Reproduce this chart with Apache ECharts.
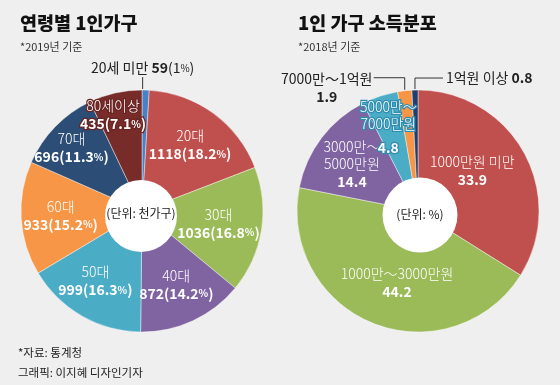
<!DOCTYPE html>
<html><head><meta charset="utf-8">
<script src="https://cdn.jsdelivr.net/npm/echarts@6/dist/echarts.min.js"></script>
<style>html,body{margin:0;padding:0;background:#efefef}#c{width:560px;height:385px}</style>
</head><body><div id="c"></div>
<script>
// ---- data ----
const ageNames = ['20세 미만','20대','30대','40대','50대','60대','70대','80세이상'];
const ageValues = [59,1118,1036,872,999,933,696,435];
const agePct = ['1','18.2','16.8','14.2','16.3','15.2','11.3','7.1'];
const incomeNames = ['1000만원 미만','1000만～3000만원','3000만～5000만원','5000만～7000만원','7000만～1억원','1억원 이상'];
const incomeLabelLines = [['1000만원 미만'],['1000만～3000만원'],['3000만～','5000만원'],['5000만～','7000만원'],['7000만～1억원'],['1억원 이상']];
const incomeValues = [33.9,44.2,14.4,4.8,1.9,0.8];

// ---- styles ----
const ageColors = ['#4a80c4','#c0504d','#9bbb59','#8064a2','#4bacc6','#f79646','#2c4d75','#772c2a'];
const incomeColors = ['#c0504d','#9bbb59','#8064a2','#4bacc6','#f79646','#1f3f6e'];
const FONT = "'Noto Sans CJK KR',sans-serif";
const KFONT = "'Noto Sans CJK KR',sans-serif";
const ageNudge = [[0,0],[0,0],[-4,0],[0,0],[-6,0],[0,0],[-12,-6],[-11,-16]];
const incNudge = [[-17,0],[9,-4],[-1,3],[-4,-3],[0,0],[0,0]];
const ageOutside = [0];
const incOutside = [4,5];

const richIn = {
  n:{fontSize:14,fontWeight:300,color:'#fff',lineHeight:17,fontFamily:FONT},
  v:{fontSize:14,fontWeight:'bold',color:'#fff',lineHeight:19,fontFamily:FONT},
  w:{fontSize:14,fontWeight:'bold',color:'#fff',lineHeight:30,fontFamily:FONT},
  p:{fontSize:10,fontWeight:'bold',color:'#fff',fontFamily:FONT}
};
const richOut = {
  b:{fontSize:14,fontWeight:'bold',color:'#222',fontFamily:FONT,lineHeight:18},
  t:{fontSize:14,color:'#222',fontFamily:FONT,lineHeight:18},
  q:{fontSize:10,color:'#222',fontFamily:FONT}
};

const ageCenter = [142,211], incCenter = [418,211], R = 121;

function visualData(names, values, colors, outside){
  return names.map((n,i)=>({name:n,value:values[i],itemStyle:{color:colors[i]},
    label:{show:outside.includes(i)},labelLine:{show:outside.includes(i)}}));
}
function labelData(names, values, outside, special){
  return names.map((n,i)=>{
    const d = {name:n,value:values[i],label:{show:!outside.includes(i)}};
    if (special[i]) Object.assign(d.label, special[i]);
    return d;
  });
}
const baseItem = {borderColor:'rgba(255,255,255,0.6)',borderWidth:0.7};

const option = {
  backgroundColor:'#efefef',
  animation:false,
  series:[
    { // age visual
      type:'pie', center:ageCenter, radius:[0,R], startAngle:90, clockwise:true,
      avoidLabelOverlap:false, silent:true, itemStyle:baseItem,
      data: visualData(ageNames, ageValues, ageColors, ageOutside),
      label:{position:'outside',fontSize:14,color:'#222',fontFamily:FONT,rich:richOut,
        formatter:(p)=>`{t|${p.name} }{b|${p.value}}{t|(${agePct[p.dataIndex]}}{q|%}{t|)}`},
      labelLine:{lineStyle:{color:'#333',width:1},length:10,length2:0},
      labelLayout:(p)=>{
        if (p.dataIndex!==0 || !p.labelLinePoints) return {};
        const q = p.labelLinePoints[0];
        const x = q[0]-3;
        return {x:x, y:q[1]-22, align:'center', verticalAlign:'middle',
          labelLinePoints:[[x,q[1]-1],[x,q[1]-13],[x,q[1]-13]]};
      }
    },
    { // age labels
      type:'pie', center:ageCenter, radius:[36,R], startAngle:90, clockwise:true,
      avoidLabelOverlap:false, silent:true, itemStyle:{color:'rgba(0,0,0,0)'},
      data: labelData(ageNames, ageValues, ageOutside, {7:{textBorderColor:'#6a2422',textBorderWidth:2.5}}),
      label:{position:'inside',rich:richIn,fontFamily:FONT,
        formatter:(p)=>`{n|${p.name}}\n{v|${p.value}(${agePct[p.dataIndex]}}{p|%}{v|)}`},
      labelLine:{show:false},
      labelLayout:(p)=>({dx:ageNudge[p.dataIndex][0],dy:ageNudge[p.dataIndex][1]})
    },
    { // income visual
      type:'pie', center:incCenter, radius:[0,R], startAngle:90, clockwise:true,
      avoidLabelOverlap:false, silent:true, itemStyle:baseItem,
      data: visualData(incomeNames, incomeValues, incomeColors, incOutside),
      label:{position:'outside',fontSize:14,color:'#222',fontFamily:FONT,rich:richOut,
        formatter:(p)=> p.dataIndex===4 ? `{t|${p.name}}\n{b|${p.value}}` : `{t|${p.name} }{b|${p.value}}`},
      labelLine:{lineStyle:{color:'#333',width:1},length:10,length2:0},
      labelLayout:(p)=>{
        if (!p.labelLinePoints) return {};
        const q = p.labelLinePoints[0];
        if (p.dataIndex===4){
          return {x:q[0]-78, y:q[1]-3, align:'center', verticalAlign:'middle',
            labelLinePoints:[[q[0],q[1]-1],[q[0],q[1]-13],[q[0]-31,q[1]-13]]};
        }
        if (p.dataIndex===5){
          return {x:q[0]+31, y:q[1]-12, align:'left', verticalAlign:'middle',
            labelLinePoints:[[q[0],q[1]-1],[q[0],q[1]-12],[q[0]+28,q[1]-12]]};
        }
        return {};
      }
    },
    { // income labels
      type:'pie', center:incCenter, radius:[36,R], startAngle:90, clockwise:true,
      avoidLabelOverlap:false, silent:true, itemStyle:{color:'rgba(0,0,0,0)'},
      data: labelData(incomeNames, incomeValues, incOutside, {3:{textBorderColor:'#2f8db0',textBorderWidth:2.5}}),
      label:{position:'inside',rich:richIn,fontFamily:FONT,
        formatter:(p)=>{
          const i = p.dataIndex;
          const nm = incomeLabelLines[i].map(l=>`{n|${l}}`).join('\n');
          return nm + '\n' + (i===3 ? `{w|${p.value}}` : `{v|${p.value}}`);
        }},
      labelLine:{show:false},
      labelLayout:(p)=>({dx:incNudge[p.dataIndex][0],dy:incNudge[p.dataIndex][1]})
    }
  ],
  graphic:{elements:[
    {type:'circle',z:100,shape:{cx:141,cy:216,r:36},style:{fill:'#fff'}},
    {type:'circle',z:100,shape:{cx:420,cy:215,r:37.5},style:{fill:'#fff'}},
    {type:'text',z:101,x:141,y:213,style:{text:'(단위: 천가구)',fontSize:12,fontFamily:KFONT,fill:'#222',align:'center',verticalAlign:'middle'}},
    {type:'text',z:101,x:420,y:214,style:{text:'(단위: %)',fontSize:12,fontFamily:KFONT,fill:'#222',align:'center',verticalAlign:'middle'}},
    {type:'text',z:101,x:20,y:23,style:{text:'연령별 1인가구',fontSize:18.5,fontWeight:900,fontFamily:KFONT,fill:'#111',align:'left',verticalAlign:'middle'}},
    {type:'text',z:101,x:20,y:47,style:{text:'*2019년 기준',fontSize:11,fontFamily:KFONT,fill:'#333',align:'left',verticalAlign:'middle'}},
    {type:'text',z:101,x:298,y:23,style:{text:'1인 가구 소득분포',fontSize:18.5,fontWeight:900,fontFamily:KFONT,fill:'#111',align:'left',verticalAlign:'middle'}},
    {type:'text',z:101,x:298,y:47,style:{text:'*2018년 기준',fontSize:11,fontFamily:KFONT,fill:'#333',align:'left',verticalAlign:'middle'}},
    {type:'text',z:101,x:18,y:353,style:{text:'*자료: 통계청',fontSize:11.5,fontFamily:KFONT,fill:'#222',align:'left',verticalAlign:'middle'}},
    {type:'text',z:101,x:18,y:373,style:{text:'그래픽: 이지혜 디자인기자',fontSize:11.5,fontFamily:KFONT,fill:'#222',align:'left',verticalAlign:'middle'}}
  ]}
};
const chart = echarts.init(document.getElementById('c'));
chart.setOption(option);
</script>
</body></html>
